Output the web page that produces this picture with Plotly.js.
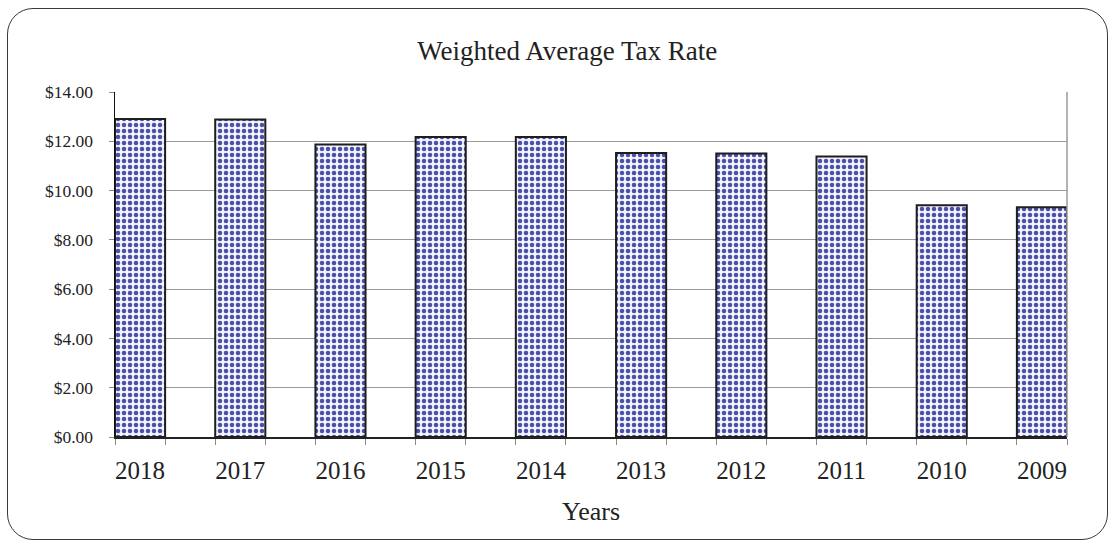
<!DOCTYPE html>
<html>
<head>
<meta charset="utf-8">
<script src="https://cdn.plot.ly/plotly-3.0.1.min.js"></script>
<style>
  html, body { margin: 0; padding: 0; background: #ffffff; }
  #frame { position: absolute; left: 7px; top: 8px; width: 1099px; height: 530px;
           border: 1px solid #3a3a3a; border-radius: 26px; }
  #chart { position: absolute; left: 0; top: 0; width: 1115px; height: 548px; }
</style>
</head>
<body>
<div id="frame"></div>
<div id="chart"></div>
<script>
// Data
const years = ["2018", "2017", "2016", "2015", "2014", "2013", "2012", "2011", "2010", "2009"];
const taxRate = [12.90, 12.88, 11.87, 12.17, 12.17, 11.52, 11.50, 11.38, 9.40, 9.32];
const yTicks = [0, 2, 4, 6, 8, 10, 12, 14];
const yTickLabels = ["$0.00", "$2.00", "$4.00", "$6.00", "$8.00", "$10.00", "$12.00", "$14.00"];

const serif = "Liberation Serif";
const pos = years.map((_, i) => i);
const labelPos = pos.map(p => p + 0.25);

const trace = {
  type: "bar",
  x: pos,
  y: taxRate,
  width: 0.5,
  offset: 0,
  marker: {
    color: "#ffffff",
    line: { color: "#1e1e1e", width: 2 },
    pattern: { shape: ".", fgcolor: "#4a50ac", bgcolor: "#f4f4fb", size: 6, solidity: 0.45, fillmode: "replace" }
  },
  hoverinfo: "skip"
};

const layout = {
  width: 1115,
  height: 548,
  margin: { l: 115, r: 48, t: 92, b: 111, pad: 0 },
  paper_bgcolor: "rgba(0,0,0,0)",
  plot_bgcolor: "#ffffff",
  showlegend: false,
  bargap: 0,
  font: { family: serif, color: "#222222" },
  title: {
    text: "Weighted Average Tax Rate",
    font: { family: serif, size: 27, color: "#222222" },
    xref: "paper", x: 0.475, xanchor: "center",
    yref: "container", y: 0.907, yanchor: "middle"
  },
  xaxis: {
    range: [0, 9.5],
    tickmode: "array",
    tickvals: labelPos,
    ticktext: years,
    ticks: "",
    ticklabelstandoff: 10,
    tickfont: { family: serif, size: 25, color: "#222222" },
    showgrid: false,
    zeroline: false,
    showline: true, linecolor: "#222222", linewidth: 1.5,
    minor: { tickmode: "linear", tick0: 0, dtick: 0.5, ticks: "outside", ticklen: 6, tickcolor: "#888888", tickwidth: 1, showgrid: false },
    title: { text: "Years", font: { family: serif, size: 26, color: "#222222" }, standoff: 19 },
    fixedrange: true
  },
  yaxis: {
    range: [0, 14],
    tickmode: "array",
    tickvals: yTicks,
    ticktext: yTickLabels,
    ticks: "outside", ticklen: 5, tickcolor: "#888888",
    ticklabelstandoff: 12,
    tickfont: { family: serif, size: 17.5, color: "#222222" },
    showgrid: true, gridcolor: "#9a9a9a", gridwidth: 1,
    zeroline: false,
    showline: true, linecolor: "#111111", linewidth: 1.5,
    fixedrange: true
  },
  shapes: [
    { type: "line", xref: "paper", yref: "paper", x0: 1, x1: 1, y0: 0, y1: 1,
      line: { color: "#9a9a9a", width: 1.5 }, layer: "above" }
  ]
};

Plotly.newPlot("chart", [trace], layout, { staticPlot: true, displayModeBar: false });
</script>
</body>
</html>
